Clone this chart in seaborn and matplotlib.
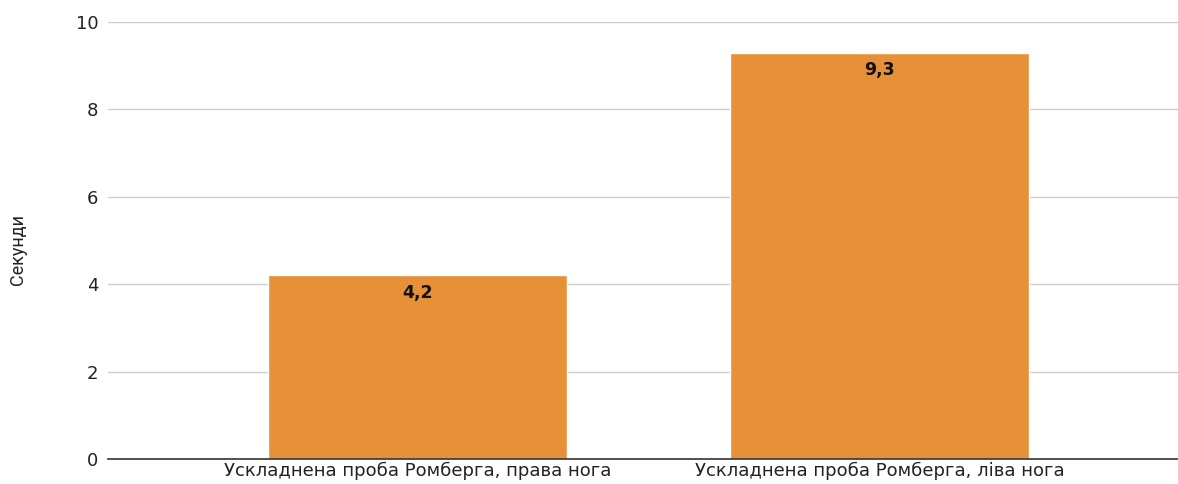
import pandas as pd
import seaborn as sns
import matplotlib.pyplot as plt

categories = ['Ускладнена проба Ромберга, права нога',
              'Ускладнена проба Ромберга, ліва нога']
values = [4.2, 9.3]
value_labels = ['4,2', '9,3']
y_ticks = [0, 2, 4, 6, 8, 10]

data = pd.DataFrame({'category': categories, 'seconds': values})

sns.set_style('white')
plt.rcParams['font.family'] = ['DejaVu Sans']

fig = plt.figure(figsize=(11.78, 4.84), dpi=100)
ax = fig.add_axes([108 / 1178, 1 - 459 / 484, 1 - 108 / 1178, (459 - 22) / 484])

sns.barplot(x='category', y='seconds', data=data, color='#e69138',
            saturation=1, width=0.647, ax=ax, zorder=2)

# value labels inside the bar tops
for i, (v, lab) in enumerate(zip(values, value_labels)):
    ax.annotate(lab, (i, v), xytext=(0, -6), textcoords='offset points',
                ha='center', va='top', fontsize=12.5, fontweight='bold',
                color='#111111')

ax.set_ylim(0, 10)
ax.set_xlim(-0.669, 1.645)
ax.set_yticks(y_ticks)
ax.set_yticklabels([str(t) for t in y_ticks])
ax.grid(axis='y', color='#cccccc', linewidth=1, zorder=0)
ax.set_axisbelow(True)
for s in ['top', 'right', 'left']:
    ax.spines[s].set_visible(False)
ax.spines['bottom'].set_color('#333333')
ax.spines['bottom'].set_linewidth(1.2)
ax.tick_params(axis='both', length=0, labelsize=13, colors='#222222')
ax.tick_params(axis='y', pad=7)
ax.tick_params(axis='x', pad=2)
ax.set_xlabel('')
ax.set_ylabel('Секунди', fontsize=13, family=['Roboto', 'DejaVu Sans'],
              color='#222222')
ax.yaxis.set_label_coords(-0.076, 0.48)

fig.savefig('out.png', dpi=100)
